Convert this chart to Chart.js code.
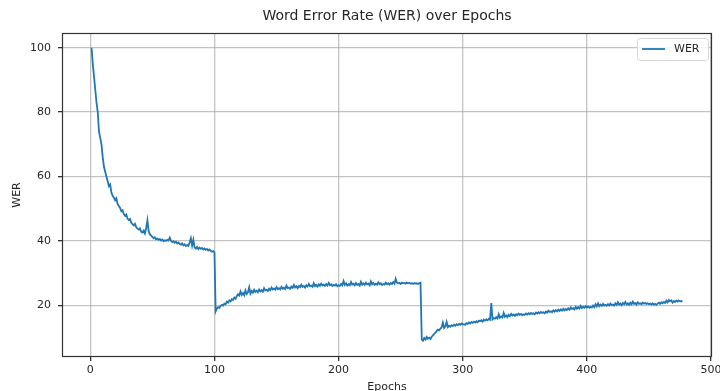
<!DOCTYPE html>
<html>
<head>
<meta charset="utf-8">
<script src="https://cdn.jsdelivr.net/npm/chart.js@4.4.1/dist/chart.umd.min.js"></script>
<style>
    html, body { margin: 0; padding: 0; background: #fff; }
    #wrap { width: 720px; height: 391px; }
</style>
</head>
<body>
<div id="wrap"><canvas id="linechart_wer" width="720" height="391"></canvas></div>
<script>
// WER, one value per epoch (epoch 1 .. 477)
const werPhase1 = [
    100, 95, 91, 87, 83, 80, 74, 72, 70, 66,
    63, 61.5, 60, 58.5, 57, 57.5, 55, 54, 53.5, 52.6,
    53.2, 51.5, 50.8, 50.2, 49.2, 49.5, 48.3, 47.8, 48.2, 46.9,
    46.5, 46.8, 45.6, 45.2, 44.8, 45.3, 44.2, 43.8, 43.5, 43.9,
    42.8, 42.6, 43.2, 42.3, 44.0, 46.4, 43.0, 42.0, 41.6, 41.2,
    40.8, 41.1, 40.5, 40.7, 40.3, 40.6, 40.1, 40.4, 39.9, 40.2,
    40.0, 40.3, 40.1, 41.0, 40.0, 39.6, 39.9, 39.4, 39.7, 39.2,
    39.5, 39.0, 38.8, 39.2, 38.6, 38.9, 38.4, 38.7, 38.4, 39.5,
    40.8, 38.5, 40.3, 38.0, 37.6, 38.1, 37.4, 37.9, 37.5, 37.8,
    37.3, 37.6, 37.2, 37.5, 37.0, 37.3, 36.9, 36.6, 36.8, 36.4
];
const werPhase2 = [
    18.1, 19.0, 19.4, 19.2, 19.8, 20.1, 19.9, 20.5, 20.3, 21.1,
    20.8, 21.5, 21.2, 21.9, 21.6, 22.4, 22.0, 22.8, 23.4, 23.0,
    24.3, 23.2, 23.8, 23.1, 24.6, 23.5, 24.0, 25.6, 23.6, 24.4,
    23.9, 24.8, 24.1, 24.5, 24.0, 24.9, 24.3, 24.7, 24.2, 25.3,
    24.6, 24.8, 24.4, 25.1, 24.7, 25.5, 24.9, 25.2, 24.8, 25.6,
    25.0, 25.3, 24.9, 25.7, 25.1, 25.4, 25.0, 26.1, 25.3, 25.5,
    25.1, 25.8, 25.4, 26.3, 25.5, 25.9, 25.3, 26.0, 25.6, 26.4,
    25.7, 26.0, 25.5, 26.2, 25.8, 26.6, 25.9, 26.1, 25.7, 26.8,
    25.9, 26.3, 25.8, 26.5, 26.0, 26.7, 26.2, 26.4, 26.0, 26.6,
    26.1, 26.9, 26.2, 26.5, 26.0, 26.3, 26.1, 26.5, 25.9, 26.2,
    26.0, 26.6, 26.2, 27.5, 26.3, 26.8, 26.1, 26.5, 26.2, 27.2,
    26.4, 26.7, 26.2, 26.9, 26.3, 26.6, 26.1, 27.3, 26.4, 26.8,
    26.3, 27.0, 26.5, 26.7, 26.2, 27.4, 26.5, 26.9, 26.3, 26.7,
    26.4, 27.1, 26.5, 26.8, 26.3, 26.6, 26.4, 27.0, 26.5, 26.8,
    26.4, 26.9, 26.6, 27.2, 26.7, 28.2, 27.0, 26.8, 26.9, 26.6,
    27.0, 26.8, 26.9, 26.7, 27.0, 26.8, 26.9, 26.7, 26.8, 26.6,
    26.9, 26.7, 26.8, 26.6, 26.9, 27.0
];
const werPhase3 = [
    9.4, 9.0, 9.8, 9.3, 10.1, 9.6, 9.9, 9.5, 10.2, 10.6,
    11.1, 11.5, 12.0, 12.4, 12.2, 12.7, 13.1, 14.6, 12.9, 13.4,
    14.8, 13.2, 13.6, 13.3, 13.8, 13.5, 13.9, 13.6, 14.1, 13.8,
    14.2, 13.9, 14.3, 14.0, 14.1, 13.9, 14.4, 14.2, 14.6, 14.3,
    14.8, 14.5, 14.9, 14.6, 15.0, 14.7, 15.2, 15.0, 15.3, 14.9,
    15.5, 15.2, 15.6, 15.3, 15.8, 15.5, 20.7, 15.6, 16.0, 15.8,
    16.3, 15.9, 17.2, 16.1, 16.5, 16.2, 17.6, 16.4, 16.8, 16.3,
    17.0, 16.6, 17.3, 16.8, 17.1, 16.7, 17.2, 16.9, 17.4, 17.0,
    17.3, 16.9, 17.2, 17.0, 17.4, 17.1, 17.5, 17.2, 17.6, 17.3,
    17.5, 17.2, 17.7, 17.4, 17.8, 17.5, 17.9, 17.6, 17.8, 17.5,
    18.0, 17.7, 18.3, 17.9, 18.1, 17.8, 18.4, 18.0, 18.5, 18.1,
    18.6, 18.2, 18.7, 18.3, 18.9, 18.4, 18.8, 18.5, 19.0, 18.6,
    19.3, 18.8, 19.1, 18.7, 19.5, 18.9, 19.4, 19.0, 19.8, 19.1,
    19.5, 19.2, 19.7, 19.3, 19.6, 19.2, 19.5, 19.3, 19.9, 19.4,
    20.3, 19.6, 20.6, 19.7, 20.2, 19.8, 20.4, 19.9, 20.1, 19.8,
    20.3, 19.9, 20.5, 20.0, 20.2, 19.9, 20.6, 20.1, 20.9, 20.2,
    20.5, 20.0, 20.7, 20.3, 21.0, 20.2, 20.6, 20.1, 20.8, 20.3,
    21.1, 20.4, 20.7, 20.2, 20.9, 20.4, 20.6, 20.3, 20.8, 20.5,
    20.7, 20.4, 20.6, 20.3, 20.5, 20.2, 20.6, 20.2, 20.4, 20.1,
    20.5, 20.8, 20.4, 20.9, 20.6, 21.0, 20.7, 21.4, 20.9, 21.6,
    21.2, 21.5, 20.8, 21.3, 21.0, 21.4, 21.1, 21.5, 21.2, 21.3,
    21.2
];
const werValues = werPhase1.concat(werPhase2, werPhase3);
const firstEpoch = 1;

const xTicks = [0, 100, 200, 300, 400, 500];
const yTicks = [20, 40, 60, 80, 100];
const seriesLabel = 'WER';
const chartTitle = 'Word Error Rate (WER) over Epochs';
const xTitle = 'Epochs';
const yTitle = 'WER';

const lineColor = '#1f77b4';
const textColor = '#262626';
const fontFamily = '"DejaVu Sans", sans-serif';

// matplotlib-like frame, title over the axes and a boxed legend
const mplDecor = {
    id: 'mplDecor',
    afterDraw(chart) {
        const ctx = chart.ctx;
        const a = chart.chartArea;
        ctx.save();
        ctx.strokeStyle = '#333';
        ctx.lineWidth = 1.2;
        ctx.strokeRect(a.left + 0.5, a.top + 0.5, a.right - a.left - 1, a.bottom - a.top - 1);

        ctx.fillStyle = textColor;
        ctx.font = '14px ' + fontFamily;
        ctx.textAlign = 'center';
        ctx.textBaseline = 'middle';
        ctx.fillText(chartTitle, (a.left + a.right) / 2, a.top - 17);

        // legend box
        const bx = a.right - 75, by = a.top + 5, bw = 71, bh = 22;
        ctx.beginPath();
        ctx.roundRect(bx + 0.5, by + 0.5, bw, bh, 3);
        ctx.fillStyle = 'rgba(255,255,255,0.85)';
        ctx.fill();
        ctx.strokeStyle = '#d6d6d6';
        ctx.lineWidth = 1;
        ctx.stroke();
        ctx.beginPath();
        ctx.moveTo(bx + 5, by + 11);
        ctx.lineTo(bx + 28, by + 11);
        ctx.strokeStyle = lineColor;
        ctx.lineWidth = 1.8;
        ctx.stroke();
        ctx.fillStyle = textColor;
        ctx.font = '11px ' + fontFamily;
        ctx.textAlign = 'left';
        ctx.fillText(chart.data.datasets[0].label, bx + 37, by + 11.5);
        ctx.restore();
    }
};

const showWerChart = () => {
    const points = werValues.map((v, i) => ({ x: firstEpoch + i, y: v }));

    new Chart("linechart_wer", {
        type: 'line',
        data: {
            datasets: [{
                label: seriesLabel,
                data: points,
                borderColor: lineColor,
                borderWidth: 1.8,
                pointRadius: 0,
                tension: 0,
                fill: false
            }]
        },
        options: {
            responsive: false,
            animation: false,
            events: [],
            layout: {
                padding: { left: 0, right: 8, top: 33, bottom: 0 }
            },
            plugins: {
                legend: { display: false },
                tooltip: { enabled: false },
                title: { display: false }
            },
            scales: {
                x: {
                    type: 'linear',
                    min: -22.8,
                    max: 500.8,
                    afterBuildTicks: (scale) => {
                        scale.ticks = xTicks.map(v => ({ value: v }));
                    },
                    afterFit: (scale) => {
                        scale.height = 34;
                        scale.paddingLeft = 0;
                        scale.paddingRight = 0;
                    },
                    grid: {
                        color: 'rgba(170,170,170,0.7)',
                        lineWidth: 1.3,
                        tickColor: '#333',
                        tickLength: 4,
                        drawTicks: true
                    },
                    border: { display: false },
                    ticks: {
                        color: textColor,
                        padding: 3,
                        maxRotation: 0,
                        font: { family: fontFamily, size: 11 }
                    },
                    title: {
                        display: true,
                        text: xTitle,
                        color: textColor,
                        padding: { top: 0, bottom: -3 },
                        font: { family: fontFamily, size: 11 }
                    }
                },
                y: {
                    type: 'linear',
                    min: 3.9,
                    max: 104.6,
                    afterBuildTicks: (scale) => {
                        scale.ticks = yTicks.map(v => ({ value: v }));
                    },
                    afterFit: (scale) => {
                        scale.width = 62;
                        scale.paddingTop = 0;
                        scale.paddingBottom = 0;
                    },
                    grid: {
                        color: 'rgba(170,170,170,0.7)',
                        lineWidth: 1.3,
                        tickColor: '#333',
                        tickLength: 4,
                        drawTicks: true
                    },
                    border: { display: false },
                    ticks: {
                        color: textColor,
                        padding: 7,
                        font: { family: fontFamily, size: 11 }
                    },
                    title: {
                        display: true,
                        text: yTitle,
                        color: textColor,
                        padding: { top: 11, bottom: 0 },
                        font: { family: fontFamily, size: 11 }
                    }
                }
            }
        },
        plugins: [mplDecor]
    });
}

showWerChart();
</script>
</body>
</html>
